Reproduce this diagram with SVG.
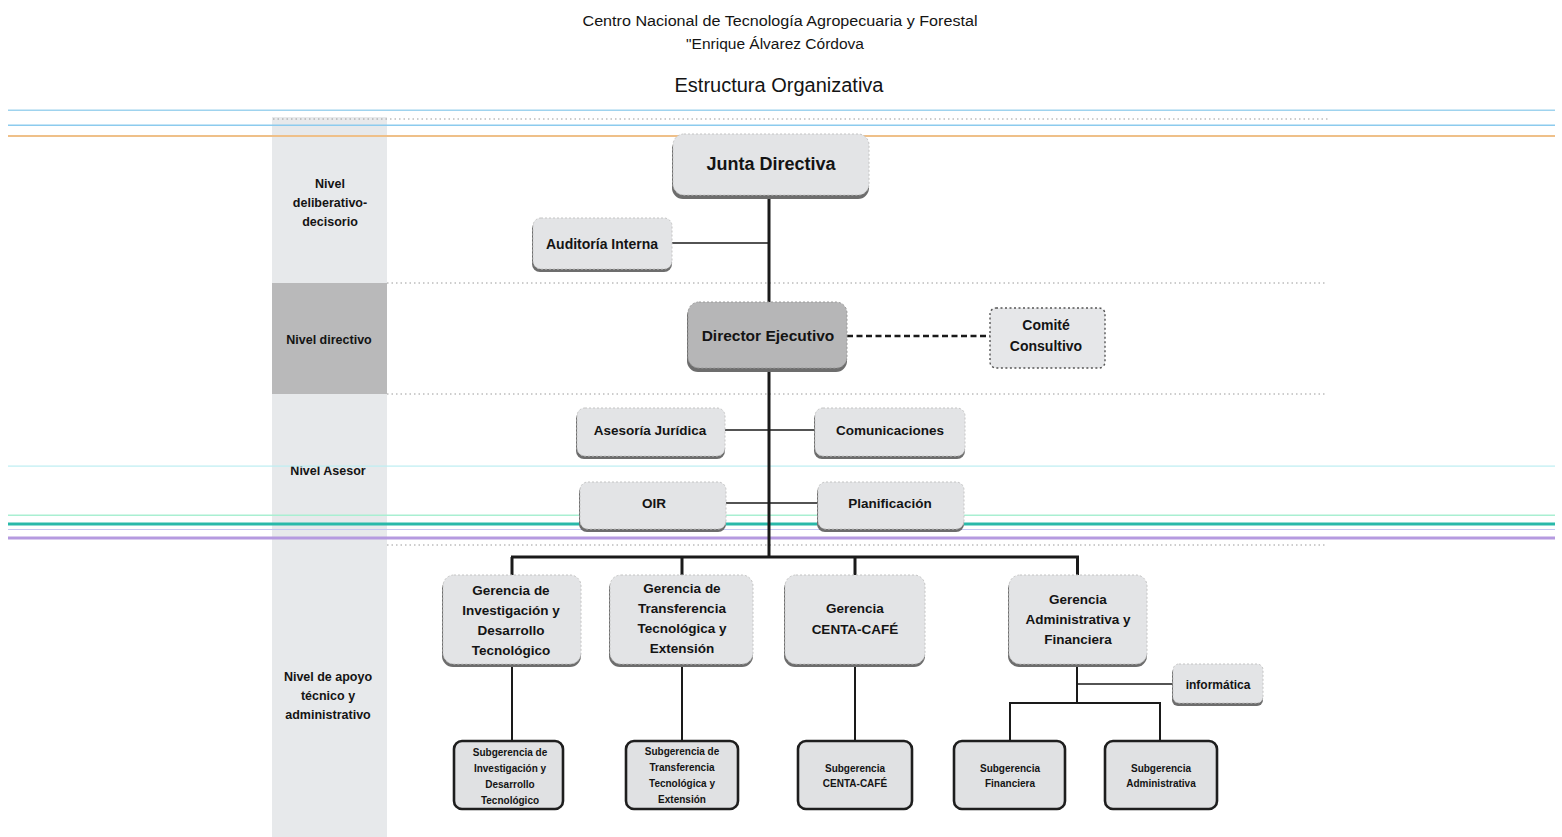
<svg xmlns="http://www.w3.org/2000/svg" width="1562" height="837" viewBox="0 0 1562 837">
<defs>
<style>
text{font-family:"Liberation Sans Narrow","Liberation Sans",Arial,sans-serif;fill:#141414;text-anchor:middle;font-weight:bold}
.ttl{font-weight:normal}
.box{fill:#e3e4e6;stroke:#c4c4c4;stroke-width:1;stroke-dasharray:2 2}
.sh{fill:#6d6d6d}
.sub{fill:#e0e1e3;stroke:#1e1e1e;stroke-width:2.6}
.lv{font-size:12.5px}
.dot{stroke:#9a9a9a;stroke-width:1;stroke-dasharray:1.5 3}
.ln{stroke:#1a1a1a;fill:none}
</style>
</defs>
<rect width="1562" height="837" fill="#ffffff"/>

<!-- title -->
<g id="title">
<text class="ttl" x="780" y="26" font-size="15.5" textLength="395" lengthAdjust="spacingAndGlyphs">Centro Nacional de Tecnología Agropecuaria y Forestal</text>
<text class="ttl" x="775" y="49" font-size="15.5">"Enrique Álvarez Córdova</text>
<text class="ttl" x="779" y="92" font-size="20">Estructura Organizativa</text>
</g>

<!-- left level column -->
<g id="levels">
<rect x="272" y="117" width="115" height="720" fill="#e7e9eb"/>
<rect x="272" y="283" width="115" height="111" fill="#b9b9ba"/>
<text class="lv" x="330" y="188">Nivel</text>
<text class="lv" x="330" y="207">deliberativo-</text>
<text class="lv" x="330" y="226">decisorio</text>
<text class="lv" x="329" y="344">Nivel directivo</text>
<text class="lv" x="328" y="475">Nivel Asesor</text>
<text class="lv" x="328" y="681">Nivel de apoyo</text>
<text class="lv" x="328" y="700">técnico y</text>
<text class="lv" x="328" y="719">administrativo</text>
</g>

<!-- dotted level separators -->
<g id="separators">
<line class="dot" x1="273" y1="119" x2="1328" y2="119"/>
<line class="dot" x1="387" y1="283" x2="1325" y2="283"/>
<line class="dot" x1="387" y1="394" x2="1325" y2="394"/>
<line class="dot" x1="387" y1="545" x2="1325" y2="545"/>
</g>

<!-- scan colour lines -->
<g id="scanlines">
<rect x="8" y="109.5" width="1547" height="1.5" fill="#9fd3ee"/>
<rect x="8" y="124.5" width="1547" height="1.5" fill="#8ccbee"/>
<rect x="8" y="135" width="1547" height="2" fill="#efc089"/>
<rect x="8" y="465.5" width="1547" height="1.2" fill="#bdeef2"/>
<rect x="8" y="514.5" width="1547" height="1.5" fill="#a9efd2"/>
<rect x="8" y="522.5" width="1547" height="3" fill="#29b9a9"/>
<rect x="8" y="529" width="1547" height="1" fill="#c6c8f0"/>
<rect x="8" y="536.5" width="1547" height="3" fill="#b59ae0"/>
</g>

<!-- connectors -->
<g id="connectors">
<line class="ln" x1="769" y1="197" x2="769" y2="558" stroke-width="3"/>
<line class="ln" x1="672" y1="243" x2="769" y2="243" stroke-width="1.6"/>
<line class="ln" x1="847" y1="336" x2="990" y2="336" stroke-width="2.4" stroke-dasharray="6 3.5"/>
<line class="ln" x1="725" y1="430" x2="815" y2="430" stroke-width="1.5"/>
<line class="ln" x1="726" y1="503" x2="818" y2="503" stroke-width="1.5"/>
<line class="ln" x1="511" y1="557" x2="1079" y2="557" stroke-width="3.2"/>
<line class="ln" x1="512" y1="557" x2="512" y2="576" stroke-width="3"/>
<line class="ln" x1="682" y1="557" x2="682" y2="576" stroke-width="3"/>
<line class="ln" x1="855" y1="557" x2="855" y2="576" stroke-width="3"/>
<line class="ln" x1="1077.5" y1="557" x2="1077.5" y2="576" stroke-width="3"/>
<line class="ln" x1="512" y1="666" x2="512" y2="741" stroke-width="2"/>
<line class="ln" x1="682" y1="666" x2="682" y2="741" stroke-width="2"/>
<line class="ln" x1="855" y1="666" x2="855" y2="741" stroke-width="2"/>
<line class="ln" x1="1077" y1="666" x2="1077" y2="703" stroke-width="2"/>
<line class="ln" x1="1077" y1="684" x2="1173" y2="684" stroke-width="1.6"/>
<polyline class="ln" points="1010,741 1010,703 1160,703 1160,741" stroke-width="2"/>
</g>

<!-- nodes -->
<g id="junta">
<rect class="sh" x="672" y="138" width="197" height="61" rx="11"/>
<rect class="box" x="673" y="134" width="196" height="61" rx="11"/>
<text x="771" y="170" font-size="18">Junta Directiva</text>
</g>
<g id="auditoria">
<rect class="sh" x="532" y="221" width="140" height="51" rx="8"/>
<rect class="box" x="533" y="218" width="139" height="51" rx="8"/>
<text x="602" y="249" font-size="14">Auditoría Interna</text>
</g>
<g id="director">
<rect class="sh" x="687" y="305" width="160" height="67" rx="11"/>
<rect x="688" y="302" width="159" height="66" rx="11" fill="#b6b6b7" stroke="#9a9a9a" stroke-dasharray="2 2"/>
<text x="768" y="341" font-size="15.5">Director Ejecutivo</text>
</g>
<g id="comite">
<rect x="990" y="308" width="115" height="60" rx="6" fill="#e6e7e9" stroke="#555" stroke-width="1.4" stroke-dasharray="2 2.5"/>
<text x="1046" y="330" font-size="14">Comité</text>
<text x="1046" y="351" font-size="14">Consultivo</text>
</g>
<g id="asesoria">
<rect class="sh" x="576" y="411" width="149" height="48" rx="8"/>
<rect class="box" x="577" y="408" width="148" height="48" rx="8"/>
<text x="650" y="435" font-size="13.5">Asesoría Jurídica</text>
</g>
<g id="comunicaciones">
<rect class="sh" x="814" y="411" width="151" height="48" rx="8"/>
<rect class="box" x="815" y="408" width="150" height="48" rx="8"/>
<text x="890" y="435" font-size="13.5">Comunicaciones</text>
</g>
<g id="oir">
<rect class="sh" x="579" y="485" width="147" height="47" rx="8"/>
<rect class="box" x="580" y="482" width="146" height="47" rx="8"/>
<text x="654" y="508" font-size="13.5">OIR</text>
</g>
<g id="planificacion">
<rect class="sh" x="817" y="485" width="147" height="47" rx="8"/>
<rect class="box" x="818" y="482" width="146" height="47" rx="8"/>
<text x="890" y="508" font-size="13.5">Planificación</text>
</g>

<g id="gerencia-investigacion">
<rect class="sh" x="442" y="578" width="139" height="89" rx="11"/>
<rect class="box" x="443" y="575" width="138" height="89" rx="11"/>
<text x="511" y="595" font-size="13.5">Gerencia de</text>
<text x="511" y="615" font-size="13.5">Investigación y</text>
<text x="511" y="635" font-size="13.5">Desarrollo</text>
<text x="511" y="655" font-size="13.5">Tecnológico</text>
</g>
<g id="gerencia-transferencia">
<rect class="sh" x="609" y="578" width="144" height="89" rx="11"/>
<rect class="box" x="610" y="575" width="143" height="89" rx="11"/>
<text x="682" y="593" font-size="13.5">Gerencia de</text>
<text x="682" y="613" font-size="13.5">Transferencia</text>
<text x="682" y="633" font-size="13.5">Tecnológica y</text>
<text x="682" y="653" font-size="13.5">Extensión</text>
</g>
<g id="gerencia-centa-cafe">
<rect class="sh" x="784" y="578" width="141" height="89" rx="11"/>
<rect class="box" x="785" y="575" width="140" height="89" rx="11"/>
<text x="855" y="613" font-size="13.5">Gerencia</text>
<text x="855" y="634" font-size="13.5">CENTA-CAFÉ</text>
</g>
<g id="gerencia-administrativa">
<rect class="sh" x="1008" y="578" width="139" height="89" rx="11"/>
<rect class="box" x="1009" y="575" width="138" height="89" rx="11"/>
<text x="1078" y="604" font-size="13.5">Gerencia</text>
<text x="1078" y="624" font-size="13.5">Administrativa y</text>
<text x="1078" y="644" font-size="13.5">Financiera</text>
</g>
<g id="informatica">
<rect class="sh" x="1172" y="667" width="91" height="39" rx="6"/>
<rect class="box" x="1173" y="664" width="90" height="39" rx="6"/>
<text x="1218" y="689" font-size="12">informática</text>
</g>

<g id="sub-investigacion">
<rect class="sub" x="454" y="741" width="109" height="68" rx="8"/>
<text x="510" y="756" font-size="10">Subgerencia de</text>
<text x="510" y="772" font-size="10">Investigación y</text>
<text x="510" y="788" font-size="10">Desarrollo</text>
<text x="510" y="804" font-size="10">Tecnológico</text>
</g>
<g id="sub-transferencia">
<rect class="sub" x="626" y="741" width="112" height="68" rx="8"/>
<text x="682" y="755" font-size="10">Subgerencia de</text>
<text x="682" y="771" font-size="10">Transferencia</text>
<text x="682" y="787" font-size="10">Tecnológica y</text>
<text x="682" y="803" font-size="10">Extensión</text>
</g>
<g id="sub-centa-cafe">
<rect class="sub" x="798" y="741" width="114" height="68" rx="8"/>
<text x="855" y="772" font-size="10">Subgerencia</text>
<text x="855" y="787" font-size="10">CENTA-CAFÉ</text>
</g>
<g id="sub-financiera">
<rect class="sub" x="954" y="741" width="111" height="68" rx="8"/>
<text x="1010" y="772" font-size="10">Subgerencia</text>
<text x="1010" y="787" font-size="10">Financiera</text>
</g>
<g id="sub-administrativa">
<rect class="sub" x="1105" y="741" width="112" height="68" rx="8"/>
<text x="1161" y="772" font-size="10">Subgerencia</text>
<text x="1161" y="787" font-size="10">Administrativa</text>
</g>
</svg>
